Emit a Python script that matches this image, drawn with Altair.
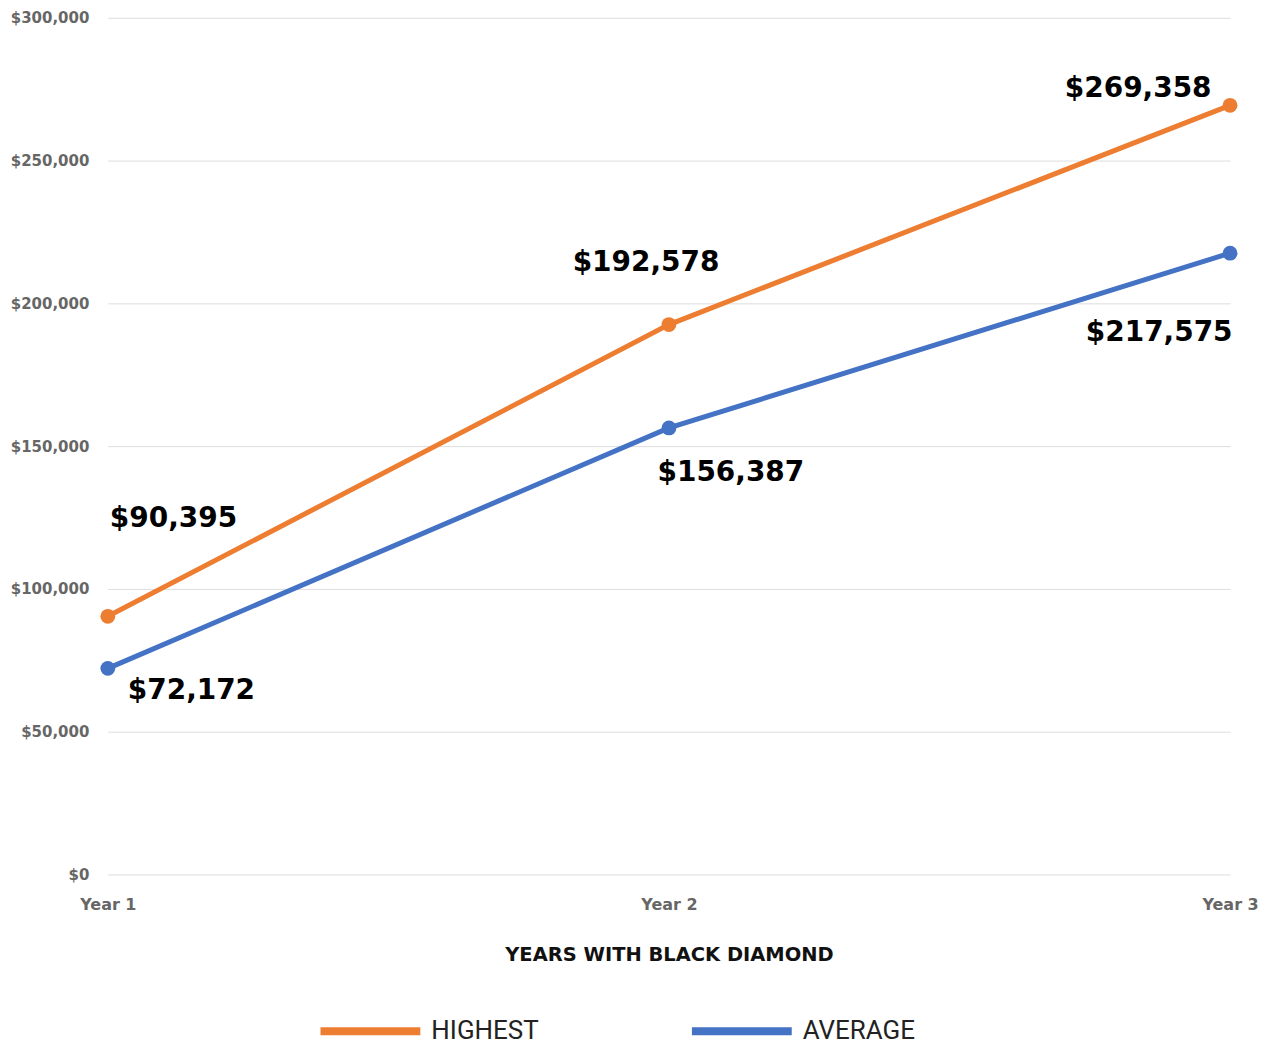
import altair as alt
import pandas as pd

years = ["Year 1", "Year 2", "Year 3"]
highest = [90395, 192578, 269358]
average = [72172, 156387, 217575]
series_names = ["HIGHEST", "AVERAGE"]
colors = ["#ED7D31", "#4472C4"]

rows = []
for name, vals in zip(series_names, [highest, average]):
    for yr, v in zip(years, vals):
        rows.append({"year": yr, "value": v, "series": name,
                     "label": "${:,}".format(v)})
df = pd.DataFrame(rows)

FONT = "DejaVu Sans"

x = alt.X("year:N", sort=years, scale=alt.Scale(padding=0),
          axis=alt.Axis(title="YEARS WITH BLACK DIAMOND", labelAngle=0,
                        labelFontSize=16, labelFontWeight="bold", labelColor="#666666",
                        labelPadding=22, titleFontSize=19.5, titleFontWeight="bold",
                        titleColor="#111111", titlePadding=33, domain=False, ticks=False,
                        grid=False, labelFont=FONT, titleFont=FONT))
y = alt.Y("value:Q", scale=alt.Scale(domain=[0, 300000], nice=False),
          axis=alt.Axis(title=None, values=[0, 50000, 100000, 150000, 200000, 250000, 300000],
                        format="$,.0f", labelFontSize=15, labelFontWeight="bold",
                        labelColor="#666666", labelPadding=19, domain=False, ticks=False,
                        gridColor="#dddddd", gridWidth=1, labelFont=FONT))
color = alt.Color("series:N", sort=series_names,
                  scale=alt.Scale(domain=series_names, range=colors),
                  legend=alt.Legend(title=None, orient="none", legendX=209, legendY=961,
                                    direction="horizontal", symbolType="stroke",
                                    symbolSize=10000, symbolStrokeWidth=8,
                                    labelFontSize=26, labelFont="Roboto",
                                    labelColor="#222222", labelOffset=7,
                                    columnPadding=137, labelLimit=300))

base = alt.Chart(df)
lines = base.mark_line(strokeWidth=5).encode(x=x, y=y, color=color)
points = base.mark_circle(size=220, opacity=1).encode(x=x, y=y, color=alt.Color("series:N", scale=alt.Scale(domain=series_names, range=colors), legend=None))

offsets = {
    ("HIGHEST", "Year 1"): (2, -97, "left"),
    ("AVERAGE", "Year 1"): (20, 23, "left"),
    ("HIGHEST", "Year 2"): (-23, -62, "center"),
    ("AVERAGE", "Year 2"): (62, 45, "center"),
    ("HIGHEST", "Year 3"): (-92, -16, "center"),
    ("AVERAGE", "Year 3"): (-71, 80, "center"),
}
texts = []
for (s, yr), (dx, dy, al) in offsets.items():
    texts.append(
        base.transform_filter((alt.datum.series == s) & (alt.datum.year == yr))
        .mark_text(fontSize=28, fontWeight="bold", font=FONT, color="#000000",
                   dx=dx, dy=dy, align=al, baseline="middle")
        .encode(x=x, y=y, text="label:N")
    )

chart = alt.layer(lines, points, *texts).properties(
    width=1124, height=858,
    autosize=alt.AutoSizeParams(type="none"),
    padding={"left": 100, "top": 9, "right": 40, "bottom": 176},
).configure_view(stroke=None)

chart.save("out.html", embed_options={"renderer": "svg", "actions": False})
